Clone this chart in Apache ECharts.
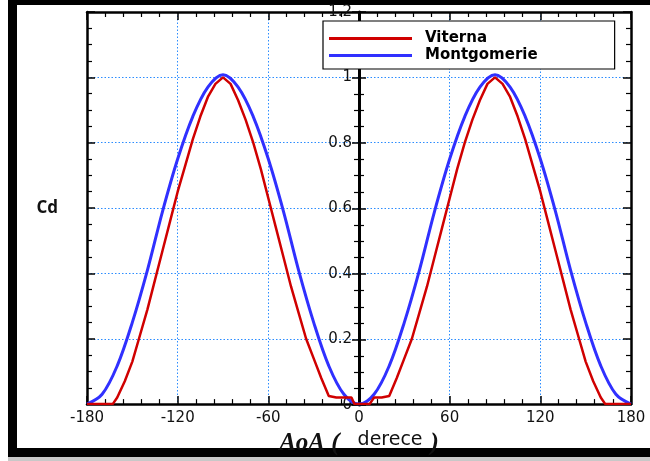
<!DOCTYPE html>
<html><head><meta charset="utf-8">
<script src="https://cdn.jsdelivr.net/npm/echarts@6/dist/echarts.min.js"></script>
<style>html,body{margin:0;padding:0;background:#fff}#c{width:650px;height:461px}</style>
</head><body><div id="c"></div>
<script>
const viternaAngles = [-180,-175,-170,-165,-163,-160,-155,-150,-145,-140,-135,-130,-125,-120,-115,-110,-105,-100,-95,-90,-85,-80,-75,-70,-65,-60,-55,-50,-45,-40,-35,-30,-25,-20,-15,-10,-5,-3,0,
  5,7,10,15,20,25,30,35,40,45,50,55,60,65,70,75,80,85,90,95,100,105,110,115,120,125,130,135,140,145,150,155,160,163,165,170,175,180];
const viterna = [0,0,0,0,0,0.02,0.07,0.13,0.21,0.29,0.38,0.47,0.56,0.65,0.73,0.81,0.88,0.94,0.98,1.0,0.98,0.93,0.87,0.80,0.72,0.63,0.54,0.45,0.36,0.28,0.20,0.14,0.08,0.025,0.02,0.02,0.02,0,0,
  0,0,0.02,0.02,0.025,0.08,0.14,0.20,0.28,0.36,0.45,0.54,0.63,0.72,0.80,0.87,0.93,0.98,1.0,0.98,0.94,0.88,0.81,0.73,0.65,0.56,0.47,0.38,0.29,0.21,0.13,0.07,0.02,0,0,0,0,0];
const montAngles = [-180,-170,-160,-150,-140,-130,-120,-110,-100,-90,-80,-70,-60,-50,-40,-30,-20,-10,0,
  10,20,30,40,50,60,70,80,90,100,110,120,130,140,150,160,170,180];
const montgomerie = [0,0.03,0.117,0.25,0.41,0.59,0.75,0.88,0.97,1.008,0.97,0.88,0.75,0.59,0.41,0.25,0.117,0.03,0,
  0.03,0.117,0.25,0.41,0.59,0.75,0.88,0.97,1.008,0.97,0.88,0.75,0.59,0.41,0.25,0.117,0.03,0];
const xTicks = [-180,-120,-60,0,60,120,180];
const yTicks = [0,0.2,0.4,0.6,0.8,1,1.2];
const seriesNames = ['Viterna','Montgomerie'];

const chart = echarts.init(document.getElementById('c'), null, {renderer:'canvas'});
const blk = '#000';
const gridLine = {show:true, lineStyle:{color:'#2b8cff', width:1, type:[1.5,2]}};
const baseX = {type:'value', min:xTicks[0], max:xTicks[xTicks.length-1], interval:60, gridIndex:0};
const baseY = {type:'value', min:yTicks[0], max:yTicks[yTicks.length-1], interval:0.2, gridIndex:0};
const tick = {show:true, inside:true, length:8, lineStyle:{color:blk, width:1.5}};
const minor = {show:true, splitNumber:5, length:5, lineStyle:{color:blk, width:1.2}};
const minorY = {show:true, splitNumber:4, length:5, lineStyle:{color:blk, width:1.2}};
const line = {show:true, onZero:false, lineStyle:{color:blk, width:2.5}};
const lblFont = {fontFamily:'DejaVu Sans', fontSize:15, color:'#111'};
chart.setOption({
  animation:false,
  backgroundColor:'#fff',
  grid:[
    {left:87, right:19, top:12, bottom:56, containLabel:false},
    {left:359, right:19, top:12, bottom:56, containLabel:false}
  ],
  legend:{
    data:seriesNames.map(n=>({name:n, icon:'rect'})),
    orient:'vertical', left:323, top:21, itemWidth:83, itemHeight:3, itemGap:2,
    padding:[10,77,6,6], backgroundColor:'#fff', borderColor:'#000', borderWidth:1.2, borderRadius:0,
    textStyle:{fontFamily:'DejaVu Sans', fontWeight:'bold', fontSize:15, lineHeight:14, color:'#000', padding:[0,0,0,8]}
  },
  xAxis:[
    Object.assign({}, baseX, {position:'bottom', axisLine:line, axisTick:tick, minorTick:minor,
      axisLabel:Object.assign({show:true, margin:7, customValues:xTicks}, lblFont),
      splitLine:gridLine,
      name:'{a|AoA (}{b|derece}{c|)}', nameLocation:'middle', nameGap:16,
      nameTextStyle:{rich:{a:{fontFamily:'Liberation Serif', fontStyle:'italic', fontWeight:'bold', fontSize:25, color:'#111'},
                           c:{fontFamily:'Liberation Serif', fontStyle:'italic', fontWeight:'bold', fontSize:25, color:'#111', padding:[0,0,0,8]},
                           b:{fontFamily:'DejaVu Sans', fontSize:19, color:'#111', padding:[0,0,6,18]}}}}),
    Object.assign({}, baseX, {position:'top', axisLine:line, axisTick:tick, minorTick:minor,
      axisLabel:{show:false}, splitLine:{show:false}}),
    {type:'value', gridIndex:1, min:0, max:180, show:false}
  ],
  yAxis:[
    Object.assign({}, baseY, {position:'left', axisLine:line, axisTick:tick, minorTick:minorY,
      axisLabel:{show:false}, splitLine:gridLine,
      name:'Cd', nameLocation:'middle', nameRotate:0, nameGap:29,
      nameTextStyle:{fontFamily:'Open Sans', fontWeight:'bold', fontSize:17, color:'#111'}}),
    Object.assign({}, baseY, {position:'right', axisLine:line, axisTick:tick, minorTick:minorY,
      axisLabel:{show:false}, splitLine:{show:false}}),
    Object.assign({}, baseY, {gridIndex:1, position:'left', axisLine:{show:true, onZero:false, lineStyle:{color:blk, width:3}},
      axisTick:{show:true, inside:true, length:7, lineStyle:{color:blk, width:1.5}}, minorTick:minorY,
      axisLabel:Object.assign({show:true, margin:7, customValues:yTicks}, lblFont),
      splitLine:{show:false}}),
    Object.assign({}, baseY, {gridIndex:1, position:'left', axisLine:{show:false, onZero:false},
      axisTick:{show:true, inside:false, length:7, lineStyle:{color:blk, width:1.5}}, minorTick:minorY,
      axisLabel:{show:false}, splitLine:{show:false}})
  ],
  series:[
    {name:seriesNames[0], type:'line', xAxisIndex:0, yAxisIndex:0, showSymbol:false, symbol:'none',
     data:viternaAngles.map((a,i)=>[a, viterna[i]]), lineStyle:{color:'#d00000', width:2.5}, itemStyle:{color:'#d00000'}, z:3},
    {name:seriesNames[1], type:'line', xAxisIndex:0, yAxisIndex:0, showSymbol:false, symbol:'none', smooth:0.35,
     data:montAngles.map((a,i)=>[a, montgomerie[i]]), lineStyle:{color:'#3030ff', width:3}, itemStyle:{color:'#3030ff'}, z:2}
  ],
  graphic:[
    {type:'rect', shape:{x:8, y:457, width:642, height:4}, style:{fill:'#c8c8c8'}, silent:true},
    {type:'rect', shape:{x:8, y:0, width:642, height:5}, style:{fill:'#000'}, silent:true},
    {type:'rect', shape:{x:8, y:0, width:9, height:457}, style:{fill:'#000'}, silent:true},
    {type:'rect', shape:{x:8, y:448, width:642, height:9}, style:{fill:'#000'}, silent:true}
  ]
});
</script></body></html>
